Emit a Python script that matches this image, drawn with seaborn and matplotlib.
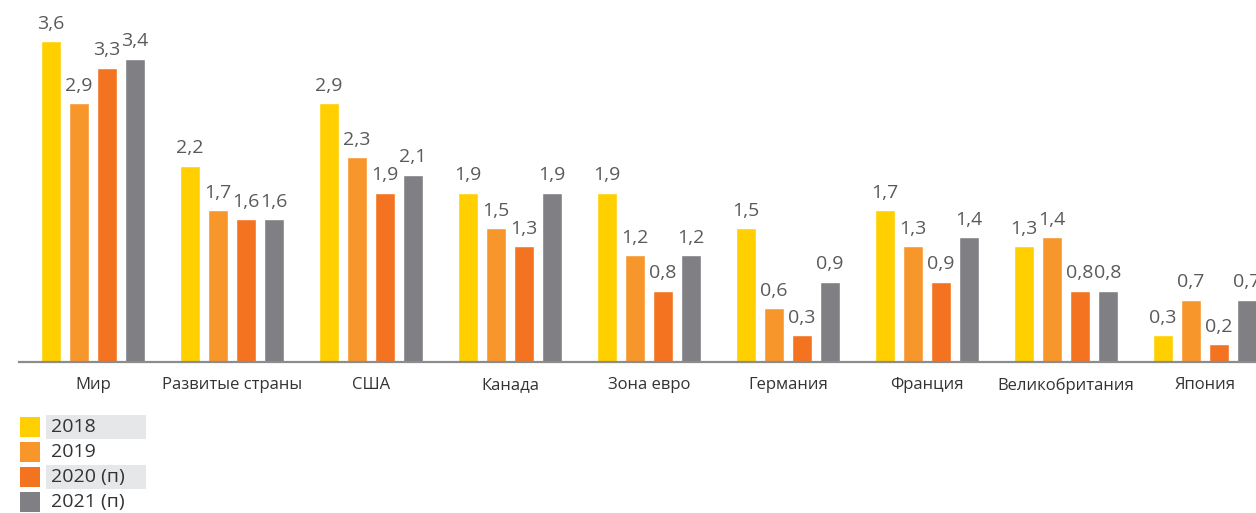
import matplotlib
matplotlib.use("Agg")
import matplotlib.pyplot as plt
from matplotlib.patches import Rectangle
import seaborn as sns
import pandas as pd

categories = ["Мир", "Развитые страны", "США", "Канада", "Зона евро",
              "Германия", "Франция", "Великобритания", "Япония"]
years = ["2018", "2019", "2020 (п)", "2021 (п)"]
v2018 = [3.6, 2.2, 2.9, 1.9, 1.9, 1.5, 1.7, 1.3, 0.3]
v2019 = [2.9, 1.7, 2.3, 1.5, 1.2, 0.6, 1.3, 1.4, 0.7]
v2020 = [3.3, 1.6, 1.9, 1.3, 0.8, 0.3, 0.9, 0.8, 0.2]
v2021 = [3.4, 1.6, 2.1, 1.9, 1.2, 0.9, 1.4, 0.8, 0.7]
colors = ["#FFCF00", "#F7962B", "#F47321", "#7F7F84"]

rows = []
for y, vals in zip(years, [v2018, v2019, v2020, v2021]):
    for c, v in zip(categories, vals):
        rows.append({"cat": c, "year": y, "val": v})
df = pd.DataFrame(rows)

sns.set_theme(style="white")
plt.rcParams["font.family"] = ["Open Sans", "DejaVu Sans"]

W, H = 1256, 513
fig = plt.figure(figsize=(W / 100, H / 100), dpi=100)
left_px, base_px = 19, 362
px_per_unit = 89.2
ymax = 4.0
top_px = base_px - ymax * px_per_unit
ax = fig.add_axes([left_px / W, (H - base_px) / H, (W - left_px) / W, (base_px - top_px) / H])

sns.barplot(data=df, x="cat", y="val", hue="year", hue_order=years, order=categories,
            palette=colors, width=0.806, gap=0.285, ax=ax, legend=False,
            saturation=1, errorbar=None)

grp = 139.0
ax.set_xlim((left_px - 93) / grp, (W - 93) / grp)
ax.set_ylim(0, ymax)

for cont in ax.containers:
    ax.bar_label(cont, fmt=lambda v: f"{v:.1f}".replace(".", ","), padding=6,
                 fontsize=14, color="#5A5A5A", clip_on=False)

for s in ["top", "right", "left"]:
    ax.spines[s].set_visible(False)
ax.spines["bottom"].set_color("#8C8C8C")
ax.spines["bottom"].set_linewidth(1.6)
ax.set_yticks([])
ax.set_xlabel("")
ax.set_ylabel("")
ax.tick_params(axis="x", length=0, pad=11, labelsize=12, labelcolor="#333333")

# Legend
row_centers = [427, 452, 477, 502]
for i, (lab, col, yc) in enumerate(zip(years, colors, row_centers)):
    if i in (0, 2):
        fig.patches.append(Rectangle((46 / W, 1 - (yc + 12) / H), 100 / W, 24 / H,
                                     transform=fig.transFigure, facecolor="#E6E7E8",
                                     edgecolor="none", zorder=0))
    fig.patches.append(Rectangle((20 / W, 1 - (yc + 10) / H), 20 / W, 20 / H,
                                 transform=fig.transFigure, facecolor=col,
                                 edgecolor="none", zorder=1))
    fig.text(51 / W, 1 - yc / H, lab, fontsize=14, color="#333333",
             va="center", ha="left", zorder=2)

fig.savefig("out.png", dpi=100)
